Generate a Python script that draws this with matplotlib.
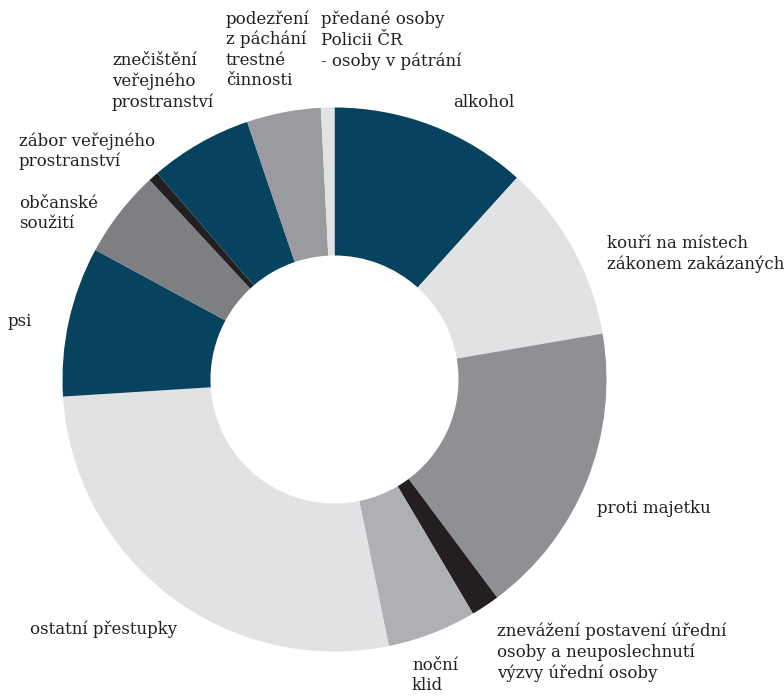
import matplotlib.pyplot as plt

# share of offences (percent), clockwise from 12 o'clock
labels = [
    "alkohol",
    "kouří na místech\nzákonem zakázaných",
    "proti majetku",
    "znevážení postavení úřední\nosoby a neuposlechnutí\nvýzvy úřední osoby",
    "noční\nklid",
    "ostatní přestupky",
    "psi",
    "občanské\nsoužití",
    "zábor veřejného\nprostranství",
    "znečištění\nveřejného\nprostranství",
    "podezření\nz páchání\ntrestné\nčinnosti",
    "předané osoby\nPolicii ČR\n- osoby v pátrání",
]
values = [11.7, 10.6, 17.5, 1.7, 5.3, 27.2, 8.9, 5.2, 0.6, 6.1, 4.4, 0.8]
colors = ["#07425f", "#e1e2e4", "#8f9093", "#231f20", "#afb0b3", "#e1e2e4",
          "#07425f", "#7e7f82", "#231f20", "#07425f", "#9a9b9e", "#e1e2e4"]

# label anchor (left, top) in pixels of the 784x697 image
label_pos = [(453, 94), (607, 235), (597, 500), (497, 623), (412, 657), (30, 621),
             (8, 313), (19, 195), (19, 132), (112, 52), (226, 10), (321, 11)]

W, H = 784, 697
fig = plt.figure(figsize=(W / 100, H / 100), dpi=100)
ax = fig.add_axes([0, 0, 1, 1])

ax.pie(values, colors=colors, startangle=90, counterclock=False,
       center=(334.5, H - 379.5), radius=272,
       wedgeprops=dict(width=272 - 124, linewidth=0))

# pie() resets the limits, so set them afterwards
ax.set_xlim(0, W)
ax.set_ylim(0, H)
ax.set_aspect("equal")
ax.axis("off")

for text, (px, py) in zip(labels, label_pos):
    ax.text(px, H - py, text, ha="left", va="top", fontsize=12,
            family="DejaVu Serif", color="#231f20", linespacing=1.25)

fig.savefig("out.png", dpi=100)
